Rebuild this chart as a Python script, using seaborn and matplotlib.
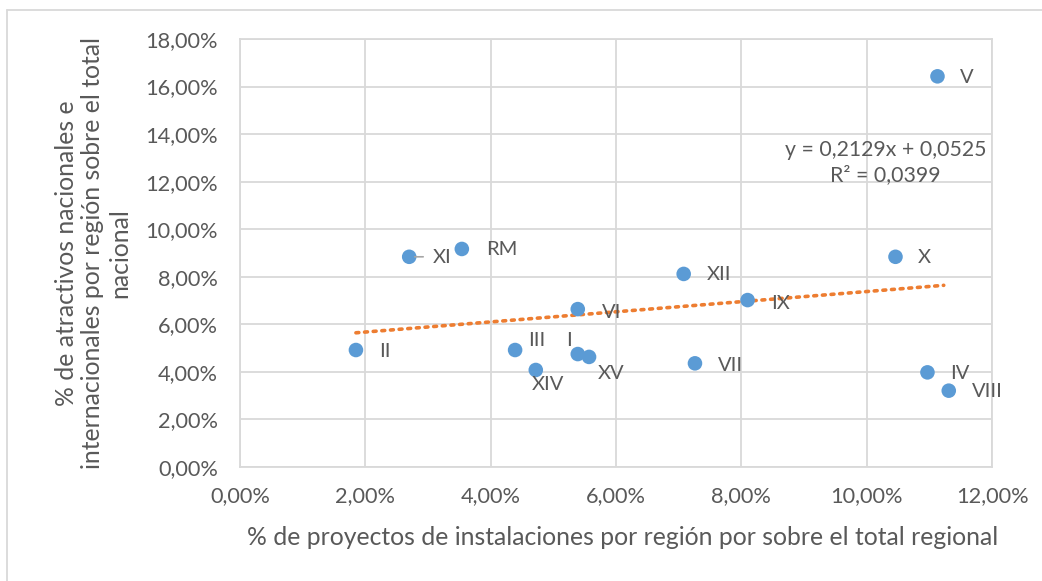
import numpy as np
import pandas as pd
import matplotlib
matplotlib.use("Agg")
import matplotlib.pyplot as plt
import seaborn as sns
from matplotlib.ticker import FuncFormatter
from matplotlib.lines import Line2D

# Data (fractions)
regions = ['II', 'XI', 'RM', 'III', 'XIV', 'I', 'XV', 'VI',
           'XII', 'VII', 'IX', 'X', 'V', 'IV', 'VIII']
proyectos = [0.0185, 0.0270, 0.0354, 0.0439, 0.0472, 0.0539, 0.0557, 0.0539,
             0.0708, 0.0726, 0.0810, 0.1046, 0.1113, 0.1097, 0.1131]
atractivos = [0.0492, 0.0884, 0.0917, 0.0492, 0.0408, 0.0475, 0.0463, 0.0664,
              0.0812, 0.0436, 0.0702, 0.0884, 0.1643, 0.0398, 0.0321]

# label placement in pixels: (dx, dy, ha) relative to each point, dy up positive
label_pos = {
    'II': (23, -1, 'left'), 'XI': (24, -1, 'left'), 'RM': (24, -1, 'left'),
    'III': (13, 10, 'left'), 'XIV': (12, -15, 'center'), 'I': (-9, 14, 'center'),
    'XV': (22, -17, 'center'), 'VI': (24, -3, 'left'), 'XII': (23, -1, 'left'),
    'VII': (23, -2, 'left'), 'IX': (24, -3, 'left'), 'X': (22, -1, 'left'),
    'V': (22, -1, 'left'), 'IV': (23, -1, 'left'), 'VIII': (23, -1, 'left'),
}

slope = 0.2129
intercept = 0.0525
r2 = 0.0399

df = pd.DataFrame({'region': regions, 'x': proyectos, 'y': atractivos})

sns.set_theme(style="white")
plt.rcParams['font.family'] = ['Lato', 'DejaVu Sans']

text_col = '#595959'
grid_col = '#D9D9D9'
px = 0.72  # points per pixel at dpi 100

fig = plt.figure(figsize=(10.42, 5.81), dpi=100)
ax = fig.add_axes([240 / 1042, 114 / 581, 752 / 1042, 428 / 581])

sns.scatterplot(data=df, x='x', y='y', ax=ax, s=110, color='#5B9BD5',
                edgecolor='none', zorder=3)

# linear trendline (dotted, orange)
xs = np.linspace(df['x'].min(), df['x'].max() - 0.0008, 50)
ax.plot(xs, slope * xs + intercept, color='#ED7D31', linestyle=(0, (0.8, 1.6)),
        linewidth=2.6, dash_capstyle='round', zorder=2)

for r, xv, yv in zip(regions, proyectos, atractivos):
    dx, dy, ha = label_pos[r]
    ax.annotate(r, (xv, yv), xytext=(dx * px, dy * px), textcoords='offset points',
                ha=ha, va='center', fontsize=14.5, color=text_col, zorder=4)

# leader line for XI
ax.annotate('', xy=(0.0270, 0.0884), xytext=(14 * px, 0), textcoords='offset points',
            arrowprops=dict(arrowstyle='-', color='#A6A6A6', lw=1.2, shrinkA=0, shrinkB=4))

ax.text(0.1030, 0.128, f'y = {slope:.4f}x + {intercept:.4f}\nR² = {r2:.4f}'.replace('.', ','),
        ha='center', va='center', fontsize=15.3, color=text_col, linespacing=1.3)

ax.set_xlim(0, 0.12)
ax.set_ylim(0, 0.18)
ax.set_xticks(np.arange(0, 0.1201, 0.02))
ax.set_yticks(np.arange(0, 0.1801, 0.02))
pct = FuncFormatter(lambda v, p: f"{v * 100:.2f}%".replace('.', ','))
ax.xaxis.set_major_formatter(pct)
ax.yaxis.set_major_formatter(pct)
ax.tick_params(axis='both', colors=text_col, labelsize=15.7, length=0)
ax.tick_params(axis='x', pad=14)
ax.tick_params(axis='y', pad=16)
ax.grid(True, color=grid_col, linewidth=1.3)
ax.set_axisbelow(True)
for sp in ax.spines.values():
    sp.set_color(grid_col)
    sp.set_linewidth(1.3)

ax.set_xlabel('% de proyectos de instalaciones por región por sobre el total regional',
              fontsize=17.8, color=text_col, labelpad=14)
ax.xaxis.label.set_x(0.509)
ax.set_ylabel('% de atractivos nacionales e\ninternacionales por región sobre el total\nnacional',
              fontsize=17.8, color=text_col, labelpad=10, linespacing=1.2)

# chart area border (top and left visible)
fig.add_artist(Line2D([7 / 1042, 1.0], [1 - 9.5 / 581, 1 - 9.5 / 581],
                      transform=fig.transFigure, color=grid_col, lw=1.3))
fig.add_artist(Line2D([7 / 1042, 7 / 1042], [0, 1 - 9.5 / 581],
                      transform=fig.transFigure, color=grid_col, lw=1.3))

fig.savefig('out.png', dpi=100)
